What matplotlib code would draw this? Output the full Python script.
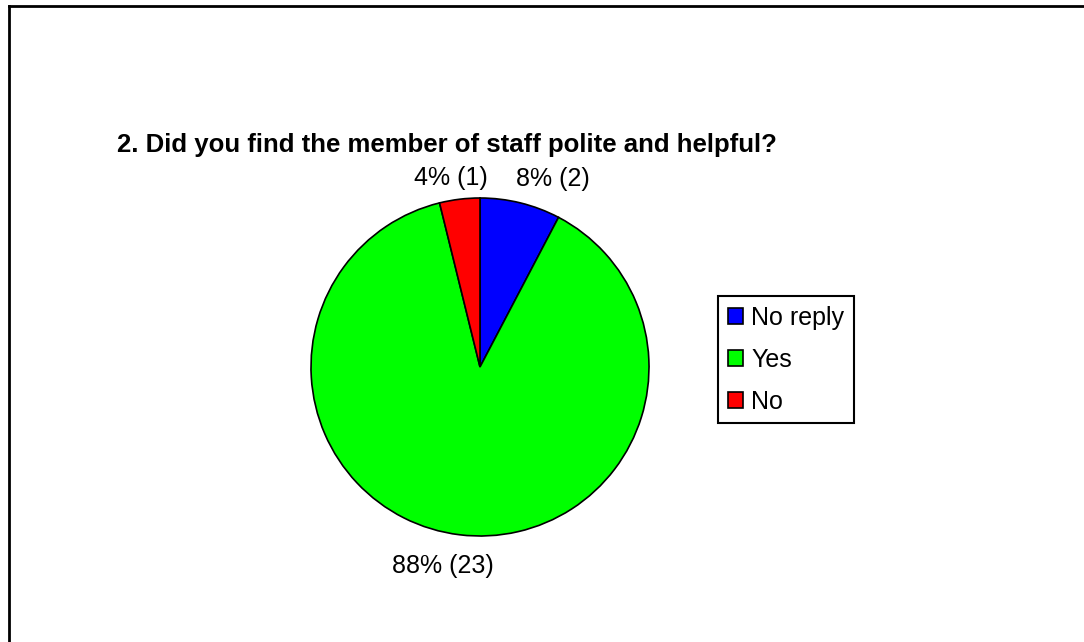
import matplotlib
matplotlib.use('Agg')
import matplotlib.pyplot as plt
from matplotlib.lines import Line2D
import numpy as np

# Survey answers for question 2
categories = ['No reply', 'Yes', 'No']
counts = [2, 23, 1]
colors = ['#0000ff', '#00ff00', '#ff0000']
title = '2. Did you find the member of staff polite and helpful?'

plt.rcParams['font.family'] = ['Liberation Sans', 'DejaVu Sans']

fig = plt.figure(figsize=(10.84, 6.42), dpi=100)

# outer chart frame (left and top edges visible)
fig.add_artist(Line2D([8.5 / 1084, 8.5 / 1084], [0, 1 - 6 / 642], color='black', lw=2))
fig.add_artist(Line2D([8.5 / 1084, 1], [1 - 6 / 642, 1 - 6 / 642], color='black', lw=2))

fig.text(117 / 1084, 1 - 145 / 642, title, fontsize=18.5, fontweight='bold', va='center', ha='left')

ax = fig.add_axes([311 / 1084, 106 / 642, 338 / 1084, 338 / 642])
wedges, _ = ax.pie(counts, colors=colors, startangle=90, counterclock=False,
                   wedgeprops=dict(edgecolor='black', linewidth=1.2))
ax.set_xlim(-1, 1)
ax.set_ylim(-1, 1)
ax.set_aspect('equal')
ax.axis('off')

# percentage labels with counts
total = sum(counts)
label_pos = [(0.43, 1.11), (-0.22, -1.18), (-0.17, 1.12)]
for c, (lx, ly) in zip(counts, label_pos):
    txt = '%d%% (%d)' % (round(100 * c / total), c)
    ax.text(lx, ly, txt, ha='center', va='center', fontsize=18, clip_on=False)

leg = fig.legend(wedges, categories, loc='upper left',
                 bbox_to_anchor=(718 / 1084, 1 - 296 / 642),
                 fontsize=18, frameon=True, fancybox=False, framealpha=1,
                 edgecolor='black', handlelength=0.6, handleheight=0.6,
                 handletextpad=0.34, labelspacing=0.72, borderpad=0.38,
                 borderaxespad=0)
leg.get_frame().set_linewidth(1.5)

fig.savefig('out.png', dpi=100)
